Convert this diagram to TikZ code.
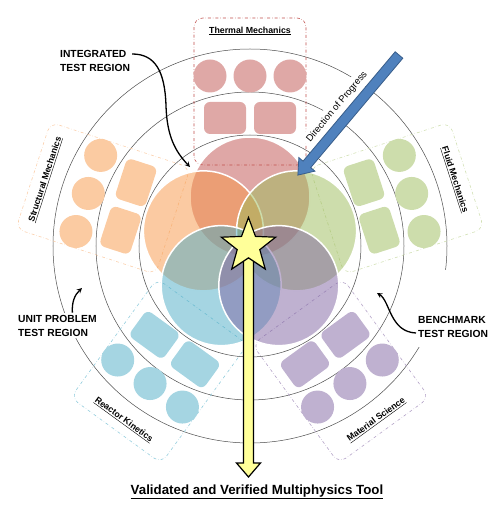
\documentclass[tikz,border=0pt]{standalone}
\usepackage{fontspec}
\setmainfont{Liberation Sans}
\usetikzlibrary{shapes, arrows, positioning, shapes.geometric}

\definecolor{thermred}{RGB}{192,80,77}
\definecolor{structorange}{RGB}{247,150,70}
\definecolor{fluidgreen}{RGB}{155,187,89}
\definecolor{reactblue}{RGB}{75,172,198}
\definecolor{matpurple}{RGB}{128,100,162}
\definecolor{progblue}{RGB}{79,129,189}
\definecolor{progedge}{RGB}{56,93,138}
\definecolor{goalyellow}{RGB}{255,255,153}

% one physics box: name, angle, colour, border colour, title, title rotation
\newcommand{\domainbox}[6]{%
  \begin{scope}[rotate=#2-90]
    \draw[boxline, draw=#4] (-56,81) rectangle (56,228);
    \node[tile, fill=#3!50!white] (#1a) at (-25,128) {};
    \node[tile, fill=#3!50!white] (#1b) at (25,128) {};
    \node[ball, fill=#3!50!white] (#1c) at (-40,170) {};
    \node[ball, fill=#3!50!white] (#1d) at (0,170) {};
    \node[ball, fill=#3!50!white] (#1e) at (40,170) {};
    \node[title, rotate=#6] (#1) at (0,215) {\underline{#5}};
  \end{scope}}

\begin{document}
\begin{tikzpicture}[x=1pt, y=1pt,
    ring/.style={draw=black!70, line width=0.5pt},
    tile/.style={rectangle, rounded corners=6pt, minimum width=42pt, minimum height=32pt, inner sep=0pt, transform shape},
    ball/.style={circle, minimum size=33pt, inner sep=0pt},
    boxline/.style={dash dot, line width=0.6pt, rounded corners=9pt},
    title/.style={font=\fontsize{8.8}{10}\selectfont\bfseries, inner sep=1pt},
    venn/.style={circle, minimum size=120pt, inner sep=0pt, draw=white, line width=1.5pt, fill opacity=0.5},
    region/.style={font=\fontsize{10.3}{14}\selectfont\bfseries, align=left, fill=white, inner sep=2pt},
    pointer/.style={->, >=stealth, line width=1.3pt}]
    \useasboundingbox (-250,-270) rectangle (253,246);

    % test regions
    \draw[ring] (0,0) circle[radius=111pt];
    \draw[ring] (0,0) circle[radius=154pt];
    \draw[ring] (0,0) circle[radius=197pt];

    % physics boxes
    \domainbox{therm}{90}{thermred}{thermred}{Thermal Mechanics}{0}
    \domainbox{struct}{162}{structorange}{structorange!45}{Structural Mechanics}{72}
    \domainbox{fluid}{18}{fluidgreen}{fluidgreen!45}{Fluid Mechanics}{-72}
    \domainbox{react}{234}{reactblue}{reactblue!60}{Reactor Kinetics}{-36}
    \domainbox{mat}{306}{matpurple}{matpurple!60}{Material Science}{36}

    % coupled physics
    \node[venn, fill=thermred] (vtherm) at (90:49) {};
    \node[venn, fill=structorange] (vstruct) at (162:49) {};
    \node[venn, fill=fluidgreen] (vfluid) at (18:49) {};
    \node[venn, fill=reactblue] (vreact) at (234:49) {};
    \node[venn, fill=matpurple] (vmat) at (306:49) {};

    % direction of progress
    \node[font=\fontsize{9.5}{11}\selectfont, rotate=50, fill=white, inner sep=4pt] (progtext) at (87,139) {Direction of Progress};
    \begin{scope}[shift={(149,191)}, rotate=-130.1]
        \draw[fill=progblue, draw=progedge, line width=0.8pt] (0,5) -- (143,5) -- (143,10.5) -- (157,0) -- (143,-10.5) -- (143,-5) -- (0,-5) -- cycle;
    \end{scope}

    % final tool
    \node[font=\fontsize{13.3}{16}\selectfont\bfseries] (tool) at (7,-246) {\underline{Validated and Verified Multiphysics Tool}};
    \draw[fill=goalyellow, draw=black, line width=1.2pt] (-6.5,0) -- (-6.5,-217) -- (-13.5,-217) -- (-1.5,-231) -- (10.5,-217) -- (3.5,-217) -- (3.5,0) -- cycle;
    \node[star, star points=5, star point ratio=2.4, minimum size=57pt, inner sep=0pt, draw=black, line width=1.2pt, fill=goalyellow] (goal) at (-1.5,0) {};

    % region labels
    \fill[white] (163,-24) rectangle (250,-101);
    \node[region, anchor=west] (integ) at (-192,185) {INTEGRATED\\TEST REGION};
    \node[region, anchor=west] (unit) at (-234,-79.5) {UNIT PROBLEM\\TEST REGION};
    \node[region, anchor=west] (bench) at (166,-81) {BENCHMARK\\TEST REGION};
    \coordinate (integtip) at (-60,79);
    \coordinate (unittip) at (-168,-42);
    \coordinate (benchtip) at (127,-47);
    \draw[pointer] ([yshift=7pt]integ.east) .. controls (-95,192) and (-85,175) .. (-84,140) .. controls (-83,110) and (-75,95) .. (integtip);
    \draw[pointer] ([xshift=15pt]unit.north) to[bend left=25] (unittip);
    \draw[pointer] ([yshift=-6pt]bench.west) .. controls (140,-86) and (140,-55) .. (benchtip);
\end{tikzpicture}
\end{document}
